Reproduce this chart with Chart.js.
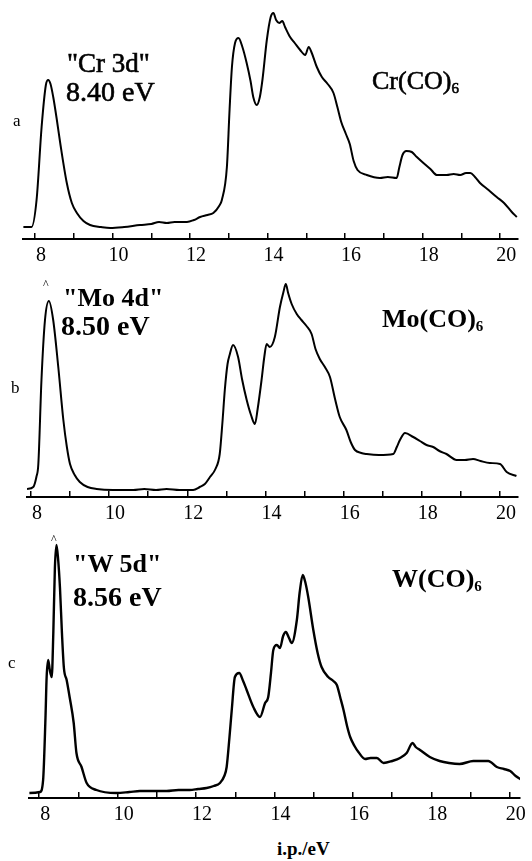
<!DOCTYPE html>
<html>
<head>
<meta charset="utf-8">
<script src="https://cdn.jsdelivr.net/npm/chart.js@4.4.1/dist/chart.umd.min.js"></script>
<style>
  html, body { margin: 0; padding: 0; background: #fff; }
  #page { position: relative; width: 532px; height: 861px; overflow: hidden; background: #fff; }
  canvas { position: absolute; left: 0; }
  .lbl { position: absolute; font-family: 'Liberation Serif', 'Times New Roman', serif; color: #000; line-height: 1; white-space: nowrap; }
  .b { font-weight: bold; }
  .m { -webkit-text-stroke: 0.6px #000; }
  .sub { font-size: 15px; position: relative; top: 4px; }
</style>
</head>
<body>
<div id="page">
  <canvas id="chartA" width="532" height="275" style="top:0px"></canvas>
  <canvas id="chartB" width="532" height="258" style="top:275px"></canvas>
  <canvas id="chartC" width="532" height="301" style="top:533px"></canvas>

  <div class="lbl" style="left:13px; top:112px; font-size:17px;">a</div>
  <div class="lbl" style="left:11px; top:379px; font-size:17px;">b</div>
  <div class="lbl" style="left:8px; top:654px; font-size:17px;">c</div>

  <div class="lbl m" style="left:67px; top:50px; font-size:27px;">"Cr 3d"</div>
  <div class="lbl m" style="left:66px; top:78px; font-size:28px;">8.40 eV</div>
  <div class="lbl m" style="left:372px; top:68px; font-size:26px;">Cr(CO)<span class="sub">6</span></div>

  <div class="lbl" style="left:43px; top:278px; font-size:12px;">^</div>
  <div class="lbl b" style="left:63px; top:285px; font-size:26px;">"Mo 4d"</div>
  <div class="lbl b" style="left:61px; top:312px; font-size:28px;">8.50 eV</div>
  <div class="lbl b" style="left:382px; top:306px; font-size:26px;">Mo(CO)<span class="sub">6</span></div>

  <div class="lbl" style="left:51px; top:533px; font-size:12px;">^</div>
  <div class="lbl b" style="left:73px; top:551px; font-size:26px;">"W 5d"</div>
  <div class="lbl b" style="left:73px; top:583px; font-size:28px;">8.56 eV</div>
  <div class="lbl b" style="left:392px; top:566px; font-size:26px;">W(CO)<span class="sub">6</span></div>

  <div class="lbl b" style="left:277px; top:839px; font-size:19px;">i.p./eV</div>
</div>

<script>
// Shared axis ticks (eV)
const xTicks = [8, 9, 10, 11, 12, 13, 14, 15, 16, 17, 18, 19, 20];

// Cr(CO)6 spectrum
const crEnergy = [7.70, 7.91, 8.04, 8.17, 8.28, 8.34, 8.40, 8.47, 8.56, 8.65, 8.82, 8.95, 9.08, 9.25, 9.42, 9.70, 9.94, 10.30, 10.71, 11.00, 11.20, 11.40, 11.60, 11.92, 12.10, 12.26, 12.45, 12.60, 12.75, 12.82, 12.95, 13.02, 13.08, 13.16, 13.25, 13.35, 13.46, 13.56, 13.63, 13.72, 13.80, 13.87, 13.98, 14.08, 14.15, 14.22, 14.30, 14.38, 14.45, 14.58, 14.70, 14.84, 14.97, 15.06, 15.14, 15.27, 15.40, 15.55, 15.70, 15.80, 15.90, 16.02, 16.12, 16.22, 16.32, 16.56, 16.90, 17.10, 17.33, 17.40, 17.48, 17.58, 17.72, 17.85, 18.02, 18.20, 18.37, 18.62, 18.80, 18.97, 19.12, 19.23, 19.35, 19.48, 19.70, 19.91, 20.10, 20.30, 20.43];
const crSignal = [12, 12, 39, 112, 154, 159, 155, 142, 120, 96, 56, 36, 26, 18, 14, 12, 11, 12, 14, 15, 17, 16, 17, 17, 19, 22, 24, 26, 33, 39, 72, 130, 172, 196, 201, 192, 176, 158, 142, 134, 142, 160, 199, 222, 226, 219, 216, 218, 212, 202, 196, 189, 184, 192, 186, 172, 162, 155, 146, 132, 117, 105, 95, 78, 69, 64, 61, 62, 61, 72, 84, 88, 87, 82, 76, 70, 64, 64, 65, 64, 66, 66, 62, 56, 49, 42, 36, 27, 22];

// Mo(CO)6 spectrum
const moEnergy = [7.90, 8.06, 8.14, 8.19, 8.27, 8.36, 8.46, 8.57, 8.70, 8.83, 8.92, 9.00, 9.12, 9.25, 9.45, 9.68, 10.10, 10.62, 10.90, 11.20, 11.47, 11.80, 12.15, 12.32, 12.45, 12.58, 12.72, 12.83, 12.90, 12.96, 13.03, 13.09, 13.17, 13.30, 13.40, 13.52, 13.63, 13.73, 13.80, 13.90, 13.97, 14.03, 14.11, 14.24, 14.37, 14.46, 14.52, 14.58, 14.67, 14.80, 14.92, 15.05, 15.18, 15.28, 15.39, 15.52, 15.65, 15.78, 15.90, 16.07, 16.18, 16.29, 16.45, 16.59, 16.90, 17.27, 17.36, 17.44, 17.57, 17.78, 17.95, 18.12, 18.29, 18.45, 18.63, 18.89, 19.10, 19.31, 19.50, 19.74, 20.00, 20.17, 20.42];
const moSignal = [8, 10, 20, 33, 117, 177, 196, 177, 130, 77, 50, 33, 22, 15, 10, 8, 7, 7, 8, 7, 8, 7, 7, 10, 13, 20, 28, 43, 75, 107, 133, 143, 152, 140, 118, 97, 82, 73, 88, 117, 140, 153, 150, 160, 190, 205, 213, 204, 193, 183, 177, 171, 163, 148, 138, 130, 120, 98, 80, 67, 55, 47, 44, 43, 42, 43, 50, 57, 64, 60, 56, 52, 50, 46, 43, 37, 37, 38, 36, 34, 33, 25, 21];

// W(CO)6 spectrum
const wEnergy = [7.75, 8.02, 8.10, 8.16, 8.19, 8.23, 8.27, 8.32, 8.36, 8.40, 8.44, 8.48, 8.53, 8.58, 8.63, 8.70, 8.78, 8.88, 8.95, 9.08, 9.21, 9.46, 9.97, 10.30, 10.57, 10.90, 11.25, 11.55, 11.84, 12.05, 12.27, 12.45, 12.61, 12.72, 12.78, 12.85, 12.91, 12.99, 13.10, 13.20, 13.29, 13.46, 13.63, 13.76, 13.84, 13.91, 13.97, 14.06, 14.14, 14.22, 14.29, 14.37, 14.44, 14.57, 14.64, 14.72, 14.79, 14.86, 14.99, 15.10, 15.20, 15.37, 15.50, 15.59, 15.68, 15.76, 15.85, 15.93, 16.04, 16.14, 16.31, 16.45, 16.61, 16.78, 17.00, 17.20, 17.37, 17.52, 17.60, 17.71, 17.96, 18.21, 18.45, 18.72, 19.07, 19.45, 19.67, 19.85, 20.01, 20.15, 20.31];
const wSignal = [5, 6, 18, 80, 121, 138, 128, 121, 165, 230, 253, 240, 210, 165, 130, 118, 100, 75, 45, 31, 15, 8, 5, 6, 7, 7, 7, 8, 8, 9, 10, 12, 15, 22, 31, 60, 88, 121, 125, 117, 108, 91, 81, 95, 101, 125, 148, 153, 150, 162, 166, 160, 155, 178, 205, 223, 215, 201, 168, 145, 131, 121, 117, 113, 100, 88, 72, 61, 52, 46, 39, 40, 40, 35, 37, 40, 45, 55, 51, 48, 41, 37, 35, 34, 37, 37, 31, 29, 27, 22, 18];

const serif = "'Liberation Serif', 'Times New Roman', serif";

// Build one panel (each panel is its own chart)
function makePanel(id, energy, signal, opts) {
    const pts = energy.map((e, i) => ({ x: e, y: signal[i] }));
    return new Chart(document.getElementById(id).getContext('2d'), {
        type: 'line',
        data: {
            datasets: [{
                data: pts,
                borderColor: '#000',
                borderWidth: opts.lw,
                pointRadius: 0,
                cubicInterpolationMode: 'monotone',
                fill: false
            }]
        },
        options: {
            responsive: false,
            animation: false,
            layout: { padding: { left: opts.left, right: opts.right, top: 0, bottom: 0 } },
            plugins: { legend: { display: false }, tooltip: { enabled: false } },
            scales: {
                x: {
                    type: 'linear',
                    min: opts.xmin,
                    max: opts.xmax,
                    border: { color: '#000', width: 2 },
                    grid: { drawOnChartArea: false, tickLength: -6, color: '#000', lineWidth: 1.5 },
                    ticks: {
                        color: '#000',
                        font: { family: serif, size: 20 },
                        padding: 11,
                        labelOffset: 6,
                        maxRotation: 0,
                        autoSkip: false,
                        callback: v => (v % 2 === 0 ? String(v) : '')
                    },
                    afterBuildTicks: s => { s.ticks = xTicks.map(v => ({ value: v })); },
                    afterFit: s => { s.height = 36; }
                },
                y: { display: false, min: 0, max: opts.ymax }
            }
        }
    });
}

makePanel('chartA', crEnergy, crSignal, { left: 23, right: 14, xmin: 7.69, xmax: 20.46, ymax: 239, lw: 2 });
makePanel('chartB', moEnergy, moSignal, { left: 27, right: 14, xmin: 7.90, xmax: 20.46, ymax: 222, lw: 2 });
makePanel('chartC', wEnergy, wSignal, { left: 29, right: 12, xmin: 7.74, xmax: 20.26, ymax: 265, lw: 2.4 });
</script>
</body>
</html>
